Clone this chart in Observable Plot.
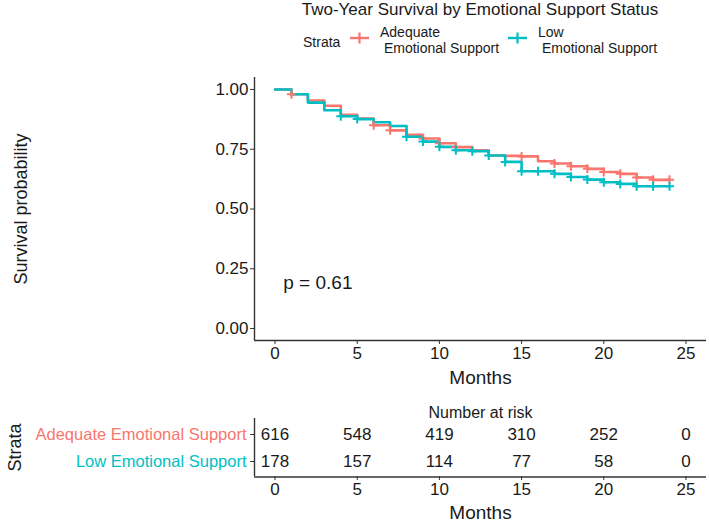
<!DOCTYPE html>
<html>
<head>
<meta charset="utf-8">
<script src="https://cdn.jsdelivr.net/npm/d3@7"></script>
<script src="https://cdn.jsdelivr.net/npm/@observablehq/plot@0.6"></script>
<style>
  html, body { margin: 0; padding: 0; background: #fff; }
  body { width: 709px; height: 523px; position: relative; overflow: hidden;
         font-family: "Liberation Sans", Arial, sans-serif; color: #1a1a1a; }
  .abs { position: absolute; white-space: nowrap; }
  #title { left: 254px; width: 452px; top: 0px; text-align: center; font-size: 17px; line-height: 20px; }
  .leg { font-size: 14px; line-height: 16px; }
  #main { left: 0; top: 60px; }
  #risk { left: 0; top: 395px; }
</style>
</head>
<body>
<div id="title" class="abs">Two-Year Survival by Emotional Support Status</div>
<div class="abs leg" style="left:303px; top:34px;">Strata</div>
<svg class="abs" style="left:349px; top:31px;" width="21" height="14"><line x1="1" x2="20" y1="7" y2="7" stroke="#F8766D" stroke-width="2.4"/><line x1="10.5" x2="10.5" y1="1.5" y2="12.5" stroke="#F8766D" stroke-width="2.2"/></svg>
<div class="abs leg" style="left:380px; top:24px;">Adequate<br>&nbsp;Emotional Support</div>
<svg class="abs" style="left:507px; top:31px;" width="21" height="14"><line x1="1" x2="20" y1="7" y2="7" stroke="#00BFC4" stroke-width="2.4"/><line x1="10.5" x2="10.5" y1="1.5" y2="12.5" stroke="#00BFC4" stroke-width="2.2"/></svg>
<div class="abs leg" style="left:538px; top:24px;">Low<br>&nbsp;Emotional Support</div>
<div id="main" class="abs"></div>
<div id="risk" class="abs"></div>
<script>
// ---- data ----
const strata = ["Adequate Emotional Support", "Low Emotional Support"];
const strataColors = ["#F8766D", "#00BFC4"];
const months = [0,1,2,3,4,5,6,7,8,9,10,11,12,13,14,15,16,17,18,19,20,21,22,23,24];
const survAdequate = [1.000,0.980,0.954,0.932,0.894,0.878,0.850,0.829,0.810,0.795,0.775,0.759,0.745,0.724,0.722,0.720,0.700,0.690,0.679,0.668,0.655,0.647,0.632,0.622,0.622];
const survLow      = [1.000,0.980,0.945,0.913,0.888,0.876,0.863,0.847,0.802,0.782,0.760,0.746,0.742,0.724,0.697,0.658,0.658,0.647,0.634,0.623,0.612,0.605,0.595,0.595,0.595];
const censorAdequate = [1,6,7,9,10,11,15,17,18,19,20,21,22,23,24];
const censorLow      = [4,5,8,9,10,11,12,13,14,15,16,17,18,19,20,21,22,23,24];
const xTicks = [0,5,10,15,20,25];
const yTicks = [0,0.25,0.5,0.75,1];
const riskTimes = [0,5,10,15,20,25];
const riskAdequate = [616,548,419,310,252,0];
const riskLow = [178,157,114,77,58,0];
const pValueText = "p = 0.61";

// ---- derived tables ----
const survSeries = [survAdequate, survLow];
const censorSeries = [censorAdequate, censorLow];
const riskSeries = [riskAdequate, riskLow];
const curves = strata.flatMap((s, i) => months.map((m, j) => ({strata: s, time: m, surv: survSeries[i][j]})));
const censors = strata.flatMap((s, i) => censorSeries[i].map(t => ({strata: s, time: t, surv: survSeries[i][months.indexOf(t)]})));
const risk = strata.flatMap((s, i) => riskTimes.map((t, j) => ({strata: s, time: t, n: riskSeries[i][j]})));

const xDomain = [-1.25, 26.25];
const yDomain = [-0.05, 1.05];
const ink = "#1a1a1a";
const font = "Liberation Sans, Arial, sans-serif";
const color = {domain: strata, range: strataColors};
const rowPadding = 0.574;

const plusSymbol = {
  draw(ctx, size) {
    const r = Math.sqrt(size / Math.PI);
    ctx.moveTo(-r, 0); ctx.lineTo(r, 0);
    ctx.moveTo(0, -r); ctx.lineTo(0, r);
  }
};

const main = Plot.plot({
  width: 709, height: 330,
  marginTop: 17, marginBottom: 50, marginLeft: 254, marginRight: 3,
  style: {fontFamily: font, fontSize: "17px", color: ink, background: "transparent", overflow: "visible"},
  x: {domain: xDomain},
  y: {domain: yDomain},
  color,
  marks: [
    Plot.axisX({ticks: xTicks, tickSize: 4, tickPadding: 2, fontSize: 17, label: null, stroke: "#333"}),
    Plot.axisY({ticks: yTicks, tickSize: 4, tickPadding: 2, fontSize: 17, label: null, tickFormat: d3.format(".2f"), stroke: "#333"}),
    Plot.ruleX([xDomain[0]], {stroke: "#333", strokeWidth: 1.4}),
    Plot.ruleY([yDomain[0]], {stroke: "#333", strokeWidth: 1.4}),
    Plot.line(curves, {x: "time", y: "surv", z: "strata", stroke: "strata", curve: "step-after", strokeWidth: 2.6}),
    Plot.dot(censors, {x: "time", y: "surv", stroke: "strata", symbol: plusSymbol, r: 4.5, fill: "none", strokeWidth: 2}),
    Plot.text([pValueText], {x: 0.5, y: 0.19, text: d => d, textAnchor: "start", fontSize: 19, fill: ink}),
    Plot.text(["Survival probability"], {frameAnchor: "left", textAnchor: "middle", lineAnchor: "middle", dx: -233, rotate: -90, fontSize: 18, fill: ink}),
    Plot.text(["Months"], {frameAnchor: "bottom", lineAnchor: "middle", dy: 37, fontSize: 19, fill: ink})
  ]
});
document.getElementById("main").appendChild(main);

const riskPlot = Plot.plot({
  width: 709, height: 128,
  marginTop: 23, marginBottom: 47, marginLeft: 254, marginRight: 3,
  style: {fontFamily: font, fontSize: "17px", color: ink, background: "transparent", overflow: "visible"},
  x: {domain: xDomain},
  y: {type: "point", domain: strata, padding: rowPadding},
  color,
  marks: [
    Plot.axisX({ticks: xTicks, tickSize: 4, tickPadding: 2, fontSize: 17, label: null, stroke: "#333"}),
    Plot.axisY({tickSize: 4, tickFormat: () => "", label: null, stroke: "#333"}),
    Plot.ruleX([xDomain[0]], {stroke: "#333", strokeWidth: 1.4}),
    Plot.ruleY([strata[strata.length - 1]], {dy: 15.5, stroke: "#333", strokeWidth: 1.4}),
    Plot.text(risk, {x: "time", y: "strata", text: "n", fontSize: 17, fill: ink}),
    Plot.text(strata, {x: () => xDomain[0], y: d => d, text: d => d, fill: d => d, textAnchor: "end", dx: -8, fontSize: 16.5}),
    Plot.text(["Number at risk"], {frameAnchor: "top", lineAnchor: "middle", dy: -6, fontSize: 16, fill: ink}),
    Plot.text(["Strata"], {frameAnchor: "left", textAnchor: "middle", lineAnchor: "middle", dx: -239, rotate: -90, fontSize: 18, fill: ink}),
    Plot.text(["Months"], {frameAnchor: "bottom", lineAnchor: "middle", dy: 36, fontSize: 19, fill: ink})
  ]
});
document.getElementById("risk").appendChild(riskPlot);
</script>
</body>
</html>
